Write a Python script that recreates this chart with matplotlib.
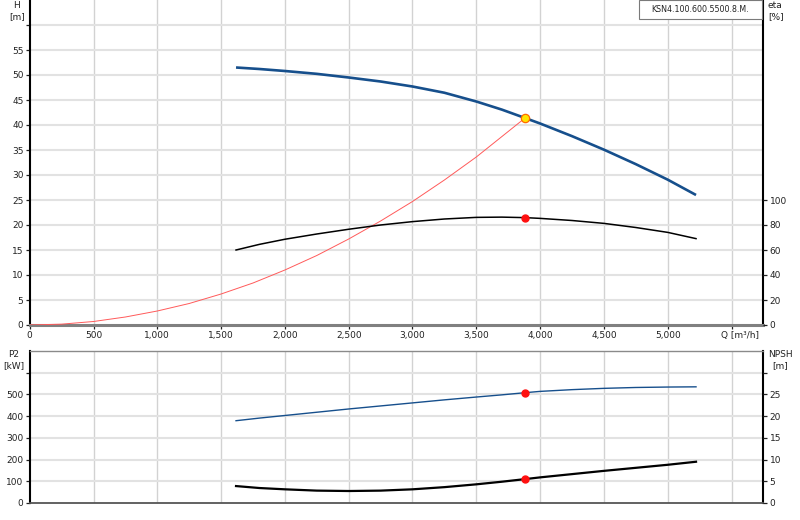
import matplotlib
matplotlib.use('Agg')
import matplotlib.pyplot as plt
from matplotlib.patches import Rectangle

# pump curve, head H [m]
q_h = [1617, 1800, 2000, 2250, 2500, 2750, 3000, 3250, 3500, 3700, 3882, 4000, 4250, 4500, 4750, 5000, 5222]
h = [51.5, 51.2, 50.8, 50.23, 49.5, 48.7, 47.7, 46.45, 44.7, 43.08, 41.4, 40.3, 37.77, 35.07, 32.17, 29.07, 26.0]

# efficiency eta [%]
q_eta = [1617, 1800, 2000, 2250, 2500, 2750, 3000, 3250, 3500, 3700, 3882, 4000, 4250, 4500, 4750, 5000, 5222]
eta = [60.0, 64.5, 68.6, 72.8, 76.6, 80.0, 82.7, 84.8, 86.1, 86.3, 85.9, 85.3, 83.6, 81.3, 78.0, 74.1, 69.1]

# system curve
q_sys = [0, 250, 500, 750, 1000, 1250, 1500, 1750, 2000, 2250, 2500, 2750, 3000, 3250, 3500, 3750, 3882]
h_sys = [0, 0.17, 0.7, 1.6, 2.8, 4.3, 6.2, 8.4, 11.0, 13.9, 17.2, 20.8, 24.7, 29.0, 33.6, 38.7, 41.4]

# power P2 [kW] and NPSH [m]
q_low = [1617, 1800, 2000, 2250, 2500, 2750, 3000, 3250, 3500, 3700, 3882, 4000, 4250, 4500, 4750, 5000, 5222]
p2 = [379, 391, 403, 418, 433, 447, 461, 475, 488, 498, 508, 514, 522, 528, 532, 534, 535]
npsh = [3.9, 3.45, 3.15, 2.85, 2.76, 2.85, 3.15, 3.65, 4.3, 4.9, 5.5, 5.9, 6.65, 7.4, 8.1, 8.8, 9.5]

# duty point
q_op = 3882
h_op = 41.4
eta_op = 85.9
p2_op = 508
npsh_op = 5.5

q_ticks = [0, 500, 1000, 1500, 2000, 2500, 3000, 3500, 4000, 4500, 5000, 5500]
q_labels = ['0', '500', '1,000', '1,500', '2,000', '2,500', '3,000', '3,500', '4,000', '4,500', '5,000', '']
pump_name = 'KSN4.100.600.5500.8.M.'

W, H = 800, 520
FS = 6.5
BLUE = '#164f8c'
GRID_H = '#e2e2e2'
GRID_V = '#d2d2d2'

fig = plt.figure(figsize=(8, 5.2), dpi=100)


def px(x0, y0, x1, y1):
    return [x0 / W, 1 - y1 / H, (x1 - x0) / W, (y1 - y0) / H]


def style(ax, bottom_color, bottom_lw, top_lw):
    ax.set_xlim(0, 5750)
    ax.spines['left'].set_color('black')
    ax.spines['left'].set_linewidth(1.5)
    ax.spines['right'].set_color('black')
    ax.spines['right'].set_linewidth(1.5)
    ax.spines['bottom'].set_color(bottom_color)
    ax.spines['bottom'].set_linewidth(bottom_lw)
    ax.spines['top'].set_color('#8a8a8a')
    ax.spines['top'].set_linewidth(top_lw)
    ax.set_xticks(q_ticks)
    ax.tick_params(labelsize=FS, colors='#222222', length=3, width=0.9, pad=1.5)
    ax.grid(False)
    for q in q_ticks[1:]:
        ax.axvline(q, color=GRID_V, lw=1.0, zorder=0)


# ---- upper panel: head / efficiency
ax1 = fig.add_axes(px(29.7, 0, 763.4, 325))
style(ax1, '#808080', 2.2, 0.8)
ax1.spines['top'].set_visible(False)
ax1.set_ylim(0, 65)
ax1.set_yticks(range(0, 65, 5))
ax1.set_yticklabels([str(v) for v in range(0, 60, 5)] + [''])
ax1.yaxis.get_major_ticks()[-1].tick1line.set_visible(False)
for v in range(5, 65, 5):
    ax1.axhline(v, color=GRID_H, lw=1.5, zorder=0)
ax1.set_xticklabels(q_labels)
ax1.text(5563, -0.031, 'Q [m³/h]', transform=ax1.get_xaxis_transform(),
         ha='center', va='center', fontsize=FS, color='#222222')

ax1r = ax1.twinx()
ax1r.set_ylim(0, 260)
ax1r.set_yticks(range(0, 120, 20))
ax1r.tick_params(labelsize=FS, colors='#222222', length=3, width=0.9, pad=1.5)
for s in ax1r.spines.values():
    s.set_visible(False)

ax1.plot(q_sys, h_sys, color='#ff5a5a', lw=0.7, zorder=3)
ax1.plot(q_h, h, color=BLUE, lw=1.9, zorder=4, solid_capstyle='butt')
ax1r.plot(q_eta, eta, color='black', lw=1.1, zorder=4)
ax1r.plot([q_op], [eta_op], 'o', color='#ff1010', ms=5, mec='#ff1010', zorder=5)
ax1.plot([q_op], [h_op], 'o', color='#ffe400', ms=6, mec='#ff6a00', mew=0.9, zorder=6)

# ---- lower panel: power / NPSH
ax2 = fig.add_axes(px(29.7, 351, 763.4, 503))
style(ax2, '#555555', 1.3, 1.0)
ax2.set_ylim(0, 700)
ax2.set_yticks(range(0, 700, 100))
ax2.set_yticklabels([str(v) for v in range(0, 600, 100)] + [''])
ax2.set_xticklabels([])
ax2.tick_params(axis='x', length=0)
for v in range(100, 700, 100):
    ax2.axhline(v, color=GRID_H, lw=1.5, zorder=0)

ax2r = ax2.twinx()
ax2r.set_ylim(0, 35)
ax2r.set_yticks(range(0, 35, 5))
ax2r.set_yticklabels([str(v) for v in range(0, 30, 5)] + [''])
ax2r.tick_params(labelsize=FS, colors='#222222', length=3, width=0.9, pad=1.5)
for s in ax2r.spines.values():
    s.set_visible(False)

ax2.plot(q_low, p2, color=BLUE, lw=1.0, zorder=4)
ax2r.plot(q_low, npsh, color='black', lw=1.6, zorder=4)
ax2.plot([q_op], [p2_op], 'o', color='#ff1010', ms=5, mec='#ff1010', zorder=5)
ax2r.plot([q_op], [npsh_op], 'o', color='#ff1010', ms=5, mec='#ff1010', zorder=5)

# ---- axis captions
cap = dict(fontsize=FS, color='#222222', va='top', linespacing=1.25)
fig.text(17 / W, 1 - 1 / H, 'H\n[m]', ha='center', **cap)
fig.text(768 / W, 1 - 1 / H, 'eta\n[%]', ha='left', **cap)
fig.text(14 / W, 1 - 350 / H, 'P2\n[kW]', ha='center', **cap)
fig.text(780 / W, 1 - 350 / H, 'NPSH\n[m]', ha='center', **cap)

# ---- pump name box
fig.patches.append(Rectangle((639 / W, 1 - 19 / H), 123 / W, 19 / H, transform=fig.transFigure,
                             facecolor='white', edgecolor='#7a7a7a', lw=0.8, zorder=10))
fig.text(700.5 / W, 1 - 10 / H, pump_name, ha='center', va='center',
         fontsize=5.7, color='#222222', zorder=11)

fig.savefig('out.png', dpi=100)
